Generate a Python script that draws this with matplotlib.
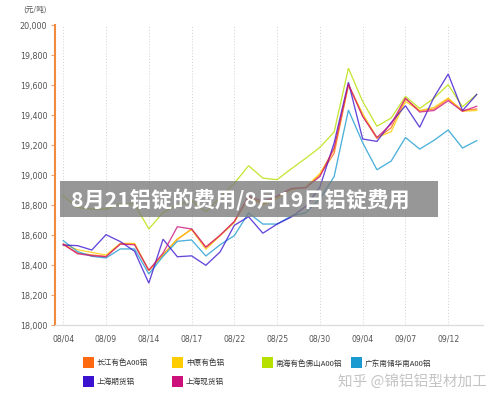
import matplotlib
matplotlib.use('Agg')
import matplotlib.pyplot as plt
from matplotlib.patches import Rectangle

# ---------------- data ----------------
dates = ['08/04', '08/07', '08/08', '08/09', '08/10', '08/11', '08/14', '08/15',
         '08/16', '08/17', '08/18', '08/21', '08/22', '08/23', '08/24', '08/25',
         '08/28', '08/29', '08/30', '08/31', '09/01', '09/04', '09/05', '09/06',
         '09/07', '09/08', '09/11', '09/12', '09/13', '09/14']

changjiang = [18535, 18480, 18467, 18458, 18540, 18540, 18362, 18470, 18570, 18640,
              18520, 18598, 18690, 18855, 18810, 18855, 18910, 18915, 19000, 19145,
              19600, 19395, 19244, 19315, 19507, 19429, 19440, 19507, 19429, 19440]
zhongyuan = [18540, 18502, 18484, 18467, 18544, 18544, 18365, 18465, 18575, 18636,
             18505, 18595, 18684, 18850, 18800, 18845, 18900, 18920, 19010, 19170,
             19600, 19410, 19250, 19289, 19490, 19429, 19451, 19513, 19425, 19430]
nanhai = [18860, 18783, 18773, 18773, 18807, 18807, 18640, 18750, 18800, 18830,
          18755, 18850, 18945, 19062, 18979, 18969, 19042, 19111, 19184, 19287,
          19712, 19490, 19325, 19380, 19524, 19444, 19512, 19602, 19455, 19537]
guangdong = [18562, 18489, 18458, 18447, 18507, 18507, 18340, 18458, 18558, 18567,
             18460, 18535, 18596, 18747, 18673, 18673, 18727, 18748, 18840, 18990,
             19433, 19215, 19035, 19093, 19250, 19173, 19231, 19300, 19180, 19229]
shfutures = [18533, 18529, 18500, 18602, 18556, 18492, 18279, 18572, 18455, 18461,
             18398, 18487, 18665, 18722, 18612, 18673, 18720, 18790, 18920, 19215,
             19618, 19240, 19224, 19350, 19462, 19318, 19518, 19673, 19429, 19537]
shspot = [18540, 18475, 18462, 18455, 18540, 18535, 18365, 18480, 18655, 18640,
          18518, 18598, 18690, 18860, 18825, 18860, 18910, 18915, 18990, 19180,
          19607, 19390, 19250, 19340, 19513, 19420, 19430, 19495, 19425, 19458]

series_names = ['长江有色A00铝', '中原有色铝', '南海有色佛山A00铝',
                '广东南储华南A00铝', '上海期货铝', '上海现货铝']
series_values = [changjiang, zhongyuan, nanhai, guangdong, shfutures, shspot]
line_colors = ['#FF6A10', '#FFCC00', '#B5E000', '#1A9AD0', '#3A12D0', '#CC117A']

y_ticks = list(range(18000, 20001, 200))
y_unit = '(元/吨)'
overlay_title = '8月21铝锭的费用/8月19日铝锭费用'
watermark = '知乎 @锦铝铝型材加工'

# ---------------- layout helpers ----------------
W, H = 500, 402
fig = plt.figure(figsize=(W / 100, H / 100), dpi=100)
fig.patch.set_facecolor('white')


def fx(px):
    return px / W


def fy(py):
    return 1 - py / H


CJK = ['Noto Sans CJK SC', 'DejaVu Sans']
LAT = ['DejaVu Sans', 'Noto Sans CJK SC']

ax = fig.add_axes([fx(55), fy(326), fx(483) - fx(55), fy(26) - fy(326)])
xs = list(range(len(dates)))
for vals, c in zip(series_values, line_colors):
    ax.plot(xs, vals, color=c, lw=0.95, alpha=0.78, solid_joinstyle='miter')

ax.set_xlim(-0.58, 29.44)
ax.set_ylim(18000, 20000)
ax.set_yticks(y_ticks)
ax.set_yticklabels([f'{v:,}' for v in y_ticks], family=LAT, fontsize=5.8, color='#555555')
ax.set_xticks(xs[::3])
ax.set_xticklabels(dates[::3], family=LAT, fontsize=5.6, color='#555555')
ax.tick_params(axis='y', length=3, width=0.8, color='#F0A070', pad=2.5)
ax.tick_params(axis='x', length=0, pad=6)
ax.grid(axis='x', linestyle=(0, (1, 2)), color='#d0d0d0', lw=0.7)
ax.set_axisbelow(True)
for s in ['top', 'right']:
    ax.spines[s].set_visible(False)
ax.spines['left'].set_color('#F08A3C')
ax.spines['left'].set_linewidth(1.5)
ax.spines['bottom'].set_color('#dddddd')
ax.spines['bottom'].set_linewidth(1.0)

fig.text(fx(23), fy(10), y_unit, family=CJK, fontsize=5.5, color='#555555',
         ha='left', va='center')

# ---------------- legend ----------------
col_x = [83.3, 172.3, 261.7, 351.0]
row_y = [363.5, 382.0]
positions = [(0, 0), (1, 0), (2, 0), (3, 0), (0, 1), (1, 1)]
for name, c, (ci, ri) in zip(series_names, line_colors, positions):
    x0 = col_x[ci]
    yc = row_y[ri]
    fig.patches.append(Rectangle((fx(x0), fy(yc + 5.5)), 11 / W, 11 / H,
                                 transform=fig.transFigure, facecolor=c,
                                 edgecolor='none', figure=fig))
    fig.text(fx(x0 + 13.5), fy(yc), name, family=CJK, fontsize=5.5,
             color='#333333', ha='left', va='center')

# ---------------- watermark ----------------
fig.text(fx(338), fy(381.5), watermark, family=CJK, fontsize=10.5,
         color='#c4c4c4', ha='left', va='center')

# ---------------- overlay banner ----------------
fig.patches.append(Rectangle((fx(60), fy(218.3)), (438 - 60) / W, (218.3 - 181.5) / H,
                             transform=fig.transFigure, facecolor='#7a7a7a',
                             alpha=0.78, edgecolor='none', zorder=10, figure=fig))
fig.text(fx(71), fy(199.5), overlay_title, family=CJK, fontsize=15.3,
         fontweight='bold', color='white', ha='left', va='center', zorder=11)

fig.savefig('out.png', dpi=100)
